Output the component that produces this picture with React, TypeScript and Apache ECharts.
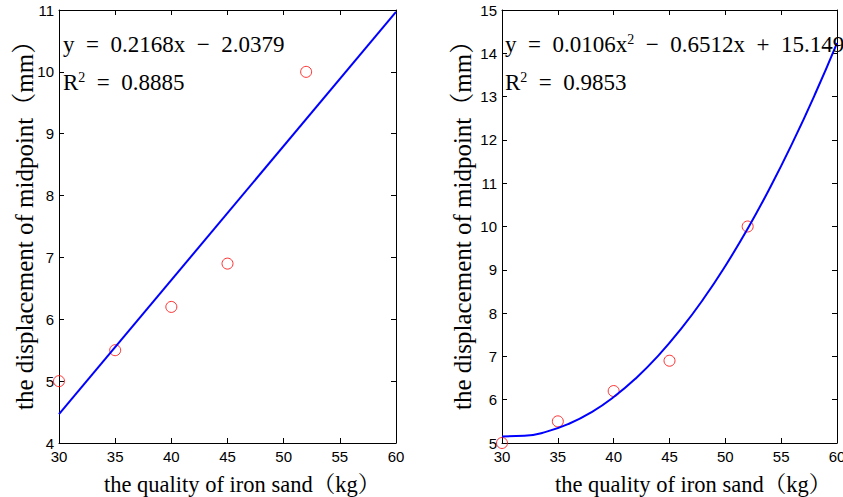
import React, { useEffect, useRef } from "react";
import * as echarts from "echarts";

const observedX = [30, 35, 40, 45, 52];
const observedY = [5, 5.5, 6.2, 6.9, 10];

const linFitX = [30, 60];
const linFitY = [4.466, 10.97];

// quadratic fit curve points
const quadFitX = [30, 32, 34, 36, 38, 40, 42, 44, 46, 48, 50, 52, 54, 56, 58, 60];
const quadFitY = [5.153, 5.165, 5.262, 5.444, 5.709, 6.061, 6.497, 7.018, 7.624, 8.313, 9.089, 9.949, 10.894, 11.924, 13.037, 14.237];

const xTicks = { min: 30, max: 60, interval: 5 };
const yLeft = { min: 4, max: 11, interval: 1 };
const yRight = { min: 5, max: 15, interval: 1 };

const eqLeft1 = "y\u00a0\u00a0=\u00a0\u00a00.2168x\u00a0\u00a0\u2212\u00a0\u00a02.0379";
const eqLeft2 = "R{sup|2}\u00a0\u00a0=\u00a0\u00a00.8885";
const eqRight1 = "y\u00a0\u00a0=\u00a0\u00a00.0106x{sup|2}\u00a0\u00a0\u2212\u00a0\u00a00.6512x\u00a0\u00a0+\u00a0\u00a015.149";
const eqRight2 = "R{sup|2}\u00a0\u00a0=\u00a0\u00a00.9853";

const xTitle = "the quality of iron sand（kg）";
const yTitle = "the displacement of midpoint（mm）";

const SERIF = "'Liberation Serif', 'Times New Roman', 'Noto Serif CJK SC', 'Noto Sans CJK SC', serif";
const SANS = "'Liberation Sans', Arial, sans-serif";

function zip(xs: number[], ys: number[]) {
  return xs.map((x, i) => [x, ys[i]]);
}

export default function App() {
  const ref = useRef<HTMLDivElement>(null);
  useEffect(() => {
    if (!ref.current) return;
    const chart = echarts.init(ref.current, undefined, { renderer: "svg" });

    const axisLine = { show: true, onZero: false, lineStyle: { color: "#000", width: 1 } };
    const tick = { show: true, inside: true, length: 5, lineStyle: { color: "#000", width: 1 } };
    const label = { color: "#000", fontFamily: SANS, fontSize: 15 };

    const mkX = (gridIndex: number, position: string, showLabel: boolean) => ({
      type: "value",
      gridIndex,
      position,
      min: xTicks.min,
      max: xTicks.max,
      interval: xTicks.interval,
      axisLine,
      axisTick: tick,
      axisLabel: { show: showLabel, margin: 6, ...label },
      splitLine: { show: false },
    });
    const mkY = (gridIndex: number, position: string, showLabel: boolean, r: any) => ({
      type: "value",
      gridIndex,
      position,
      min: r.min,
      max: r.max,
      interval: r.interval,
      axisLine,
      axisTick: tick,
      axisLabel: { show: showLabel, margin: 5, ...label },
      splitLine: { show: false },
    });

    const sup = { sup: { fontFamily: SERIF, fontSize: 14, verticalAlign: "top", fill: "#000", color: "#000" } };
    const eqStyle = (text: string) => ({
      text,
      fontFamily: SERIF,
      fontSize: 23,
      fill: "#000",
      textAlign: "left",
      textVerticalAlign: "middle",
      align: "left",
      verticalAlign: "middle",
      rich: sup,
    });
    const titleStyle = (text: string, size: number) => ({
      text,
      font: size + "px " + SERIF,
      fill: "#000",
      textAlign: "left",
      textVerticalAlign: "middle",
      align: "left",
      verticalAlign: "middle",
    });

    const marker = {
      symbol: "circle",
      symbolSize: 11,
      itemStyle: { color: "rgba(0,0,0,0)", borderColor: "#ff0000", borderWidth: 1 },
    };

    chart.setOption({
      animation: false,
      backgroundColor: "#fff",
      textStyle: { fontFamily: SANS },
      grid: [
        { left: 59, top: 10, width: 337, height: 433, outerBoundsMode: "none", containLabel: false },
        { left: 502, top: 10, width: 335, height: 433, outerBoundsMode: "none", containLabel: false },
      ],
      xAxis: [mkX(0, "bottom", true), mkX(0, "top", false), mkX(1, "bottom", true), mkX(1, "top", false)],
      yAxis: [
        mkY(0, "left", true, yLeft),
        mkY(0, "right", false, yLeft),
        mkY(1, "left", true, yRight),
        mkY(1, "right", false, yRight),
      ],
      series: [
        {
          type: "line",
          xAxisIndex: 0,
          yAxisIndex: 0,
          data: zip(linFitX, linFitY),
          showSymbol: false,
          lineStyle: { color: "#0000ff", width: 2 },
          clip: false,
        },
        {
          type: "scatter",
          xAxisIndex: 0,
          yAxisIndex: 0,
          data: zip(observedX, observedY),
          ...marker,
          clip: false,
        },
        {
          type: "line",
          xAxisIndex: 2,
          yAxisIndex: 2,
          data: zip(quadFitX, quadFitY),
          showSymbol: false,
          smooth: true,
          lineStyle: { color: "#0000ff", width: 2 },
          clip: false,
        },
        {
          type: "scatter",
          xAxisIndex: 2,
          yAxisIndex: 2,
          data: zip(observedX, observedY),
          ...marker,
          clip: false,
        },
      ],
      graphic: [
        { type: "text", x: 63, y: 44, style: eqStyle(eqLeft1), z: 10 },
        { type: "text", x: 63, y: 82, style: eqStyle(eqLeft2), z: 10 },
        { type: "text", x: 505, y: 44, style: eqStyle(eqRight1), z: 10 },
        { type: "text", x: 505, y: 82, style: eqStyle(eqRight2), z: 10 },
        { type: "text", x: 104, y: 484, style: titleStyle(xTitle, 22.5) },
        { type: "text", x: 555, y: 484, style: titleStyle(xTitle, 22.5) },
        { type: "text", x: 24, y: 410, rotation: Math.PI / 2, style: titleStyle(yTitle, 25) },
        { type: "text", x: 462, y: 410, rotation: Math.PI / 2, style: titleStyle(yTitle, 25) },
      ],
    });
    return () => chart.dispose();
  }, []);
  return <div ref={ref} style={{ position: "fixed", left: 0, top: 0, width: 843, height: 497 }} />;
}
